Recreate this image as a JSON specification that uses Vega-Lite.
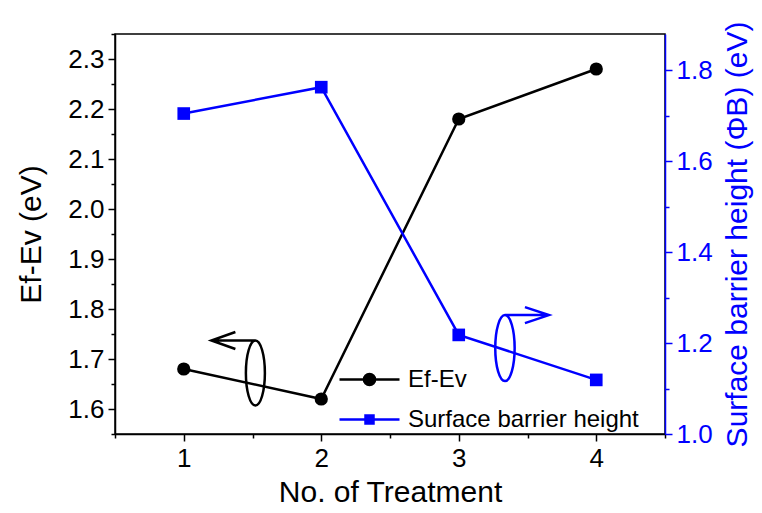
{
  "$schema": "https://vega.github.io/schema/vega-lite/v6.json",
  "width": 550,
  "height": 400,
  "autosize": "none",
  "padding": {"left": 115, "top": 34, "right": 97, "bottom": 79},
  "background": "white",
  "config": {
    "font": "Liberation Sans",
    "view": {"stroke": "black", "strokeWidth": 1.5},
    "axis": {
      "labelFont": "Liberation Sans",
      "titleFont": "Liberation Sans",
      "labelFontSize": 26,
      "titleFontSize": 30,
      "titleFontWeight": "normal",
      "domainColor": "black",
      "domainWidth": 1.5,
      "tickColor": "black",
      "tickWidth": 1.5,
      "labelColor": "black",
      "titleColor": "black",
      "grid": false,
      "labelPadding": 4
    },
    "legend": {"labelFont": "Liberation Sans"}
  },
  "data": {
    "values": [
      {"treatment": 1, "series": "Ef-Ev", "value": 1.68},
      {"treatment": 2, "series": "Ef-Ev", "value": 1.62},
      {"treatment": 3, "series": "Ef-Ev", "value": 2.18},
      {"treatment": 4, "series": "Ef-Ev", "value": 2.28},
      {"treatment": 1, "series": "Surface barrier height", "value": 1.705},
      {"treatment": 2, "series": "Surface barrier height", "value": 1.763},
      {"treatment": 3, "series": "Surface barrier height", "value": 1.218},
      {"treatment": 4, "series": "Surface barrier height", "value": 1.119},
      {"treatment": 1.521, "series": "left marker", "value": 1.672},
      {"treatment": 3.336, "series": "right marker", "value": 1.189}
    ]
  },
  "layer": [
    {
      "encoding": {
        "x": {
          "field": "treatment", "type": "quantitative",
          "scale": {"domain": [0.5, 4.5], "nice": false, "zero": false},
          "axis": {
            "title": "No. of Treatment",
            "values": [0.5, 1, 1.5, 2, 2.5, 3, 3.5, 4, 4.5],
            "labelExpr": "datum.value % 1 === 0 ? format(datum.value, 'd') : ''",
            "tickSize": {"condition": {"test": "datum.value % 1 !== 0", "value": 4}, "value": 7},
            "titlePadding": 6
          }
        },
        "y": {
          "field": "value", "type": "quantitative",
          "scale": {"domain": [1.55, 2.35], "nice": false, "zero": false},
          "axis": {
            "orient": "left",
            "title": "Ef-Ev (eV)",
            "values": [1.55, 1.6, 1.65, 1.7, 1.75, 1.8, 1.85, 1.9, 1.95, 2.0, 2.05, 2.1, 2.15, 2.2, 2.25, 2.3, 2.35],
            "labelExpr": "abs(datum.value * 10 - round(datum.value * 10)) < 0.01 ? format(datum.value, '.1f') : ''",
            "tickSize": {"condition": {"test": "abs(datum.value * 10 - round(datum.value * 10)) > 0.01", "value": 4}, "value": 7},
            "titlePadding": 21
          }
        }
      },
      "layer": [
        {
          "transform": [{"filter": "datum.series === 'Ef-Ev'"}],
          "mark": {"type": "line", "color": "black", "strokeWidth": 2.5}
        },
        {
          "transform": [{"filter": "datum.series === 'Ef-Ev'"}],
          "mark": {"type": "point", "shape": "circle", "filled": true, "color": "black", "size": 175, "opacity": 1}
        },
        {
          "transform": [{"filter": "datum.series === 'left marker'"}],
          "mark": {
            "type": "point", "filled": false, "size": 4, "stroke": "black", "strokeWidth": 2.5, "opacity": 1,
            "shape": "M-9.5,0 A9.5,32.5 0 1,1 9.5,0 A9.5,32.5 0 1,1 -9.5,0 M0,-32.5 L-44,-32.5 M-20,-41 L-44,-32.5 L-20,-24"
          }
        },
        {
          "transform": [{"filter": "datum.series === 'Ef-Ev'"}, {"filter": "datum.treatment < 0"}],
          "mark": {"type": "point", "filled": true, "opacity": 1, "strokeWidth": 2.5},
          "encoding": {
            "color": {
              "field": "series", "type": "nominal",
              "scale": {"domain": ["Ef-Ev", "Surface barrier height"], "range": ["black", "#0000ff"]},
              "legend": {
                "title": null,
                "orient": "none",
                "legendX": 233,
                "legendY": 324,
                "padding": 0,
                "symbolSize": 1600,
                "symbolStrokeWidth": 2.5,
                "labelFontSize": 24,
                "labelColor": "black",
                "labelOffset": 17,
                "labelLimit": 400,
                "rowPadding": 6,
                "symbolOffset": 0,
                "values": ["Ef-Ev", "Surface barrier height"]
              }
            },
            "stroke": {
              "field": "series", "type": "nominal",
              "scale": {"domain": ["Ef-Ev", "Surface barrier height"], "range": ["black", "#0000ff"]}
            },
            "shape": {
              "field": "series", "type": "nominal",
              "scale": {
                "domain": ["Ef-Ev", "Surface barrier height"],
                "range": [
                  "M-1.5,0 L-0.28,0 M-0.28,0 A0.28,0.28 0 1,1 0.28,0 A0.28,0.28 0 1,1 -0.28,0 M0.28,0 L1.5,0",
                  "M-1.5,0 L-0.2,0 M-0.2,-0.2 L0.2,-0.2 L0.2,0.2 L-0.2,0.2 Z M0.2,0 L1.5,0"
                ]
              }
            }
          }
        }
      ]
    },
    {
      "encoding": {
        "x": {"field": "treatment", "type": "quantitative"},
        "y": {
          "field": "value", "type": "quantitative",
          "scale": {"domain": [1.0, 1.88], "nice": false, "zero": false},
          "axis": {
            "orient": "right",
            "title": "Surface barrier height (ΦB) (eV)",
            "titleAngle": 270,
            "titleBaseline": "top",
            "values": [1.0, 1.1, 1.2, 1.3, 1.4, 1.5, 1.6, 1.7, 1.8],
            "labelExpr": "round(datum.value * 10) % 2 === 0 ? format(datum.value, '.1f') : ''",
            "tickSize": {"condition": {"test": "round(datum.value * 10) % 2 !== 0", "value": 4}, "value": 7},
            "domainColor": "#0000ff",
            "tickColor": "#0000ff",
            "labelColor": "#0000ff",
            "titleColor": "#0000ff",
            "titlePadding": 10
          }
        }
      },
      "layer": [
        {
          "transform": [{"filter": "datum.series === 'Surface barrier height'"}],
          "mark": {"type": "line", "color": "#0000ff", "strokeWidth": 2.5}
        },
        {
          "transform": [{"filter": "datum.series === 'Surface barrier height'"}],
          "mark": {"type": "point", "shape": "square", "filled": true, "color": "#0000ff", "size": 160, "opacity": 1}
        },
        {
          "transform": [{"filter": "datum.series === 'right marker'"}],
          "mark": {
            "type": "point", "filled": false, "size": 4, "stroke": "#0000ff", "strokeWidth": 2.5, "opacity": 1,
            "shape": "M-9.7,0 A9.7,33 0 1,1 9.7,0 A9.7,33 0 1,1 -9.7,0 M0,-33 L44,-33 M20,-41 L44,-33 L20,-25"
          }
        }
      ]
    }
  ],
  "resolve": {"scale": {"y": "independent"}}
}
